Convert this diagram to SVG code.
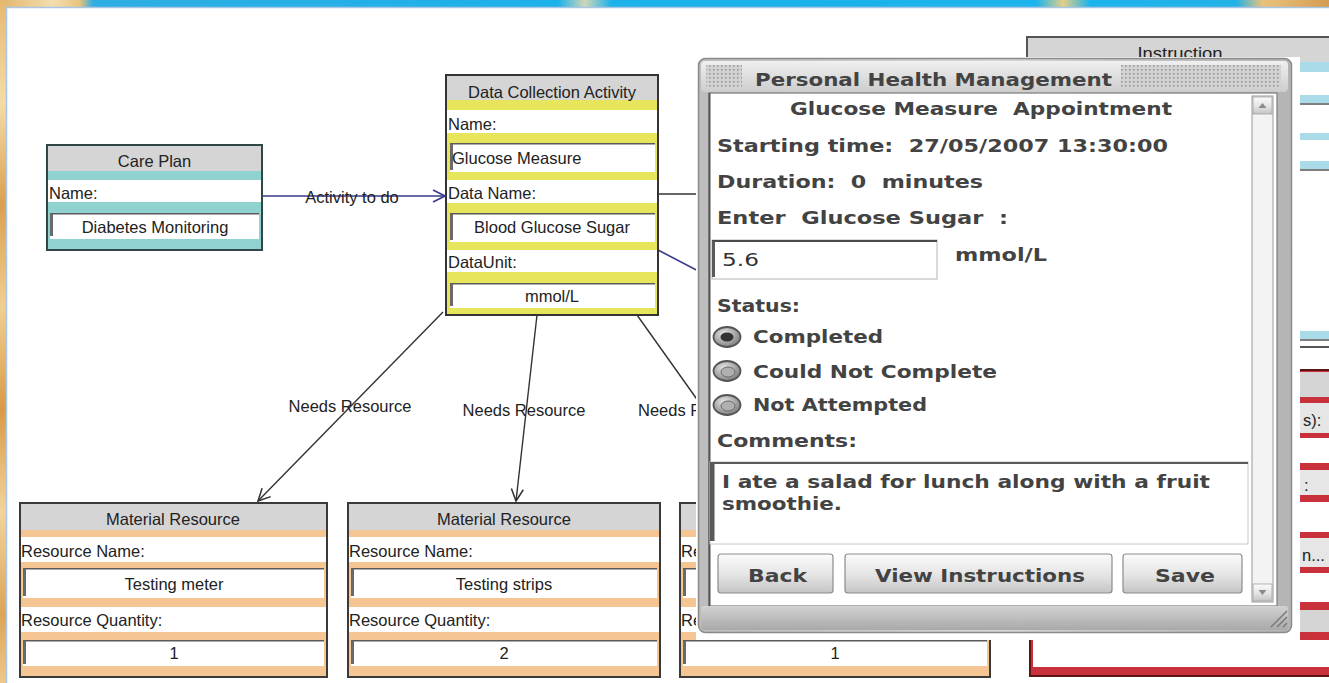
<svg xmlns="http://www.w3.org/2000/svg" width="1329" height="683" viewBox="0 0 1329 683">
  <style>
    .t { font-family: "Liberation Sans", Arial, sans-serif; font-size: 16.5px; fill: #222; }
    .mid { text-anchor: middle; }
    .hdr { fill: #d5d5d5; }
    .row { fill: #ffffff; }
    .inset { fill: none; stroke: #5a5a5a; stroke-width: 1.5; }
    .insetBar { fill: #6a6a6a; }
    .edge { fill: none; stroke: #333; stroke-width: 1.4; }
    .edgeBlue { fill: none; stroke: #3a3a8c; stroke-width: 1.6; }
    .d { font-family: "DejaVu Sans", Verdana, sans-serif; font-size: 18px; font-weight: bold; fill: #434343; white-space: pre; }
    .plain { font-weight: normal; fill: #333; }
    .btn { fill: url(#btnGrad); stroke: #8c8c8c; stroke-width: 1.2; }
    .radio { fill: url(#radioGrad); stroke: #555; stroke-width: 1.8; }
    .blueBand { fill: #a9dbe8; }
    .redBand { fill: #c8303c; }
  </style>
  <defs>
    <marker id="arrowBlue" viewBox="0 0 14 14" refX="13" refY="7" markerWidth="14" markerHeight="14" markerUnits="userSpaceOnUse" orient="auto">
      <path d="M1,1 L13,7 L1,13" fill="none" stroke="#3a3a8c" stroke-width="1.6"/>
    </marker>
    <marker id="arrowDark" viewBox="0 0 14 14" refX="13" refY="7" markerWidth="14" markerHeight="14" markerUnits="userSpaceOnUse" orient="auto">
      <path d="M1,1 L13,7 L1,13" fill="none" stroke="#333" stroke-width="1.5"/>
    </marker>
    <linearGradient id="topStrip" x1="0" y1="0" x2="1" y2="0">
      <stop offset="0" stop-color="#e2b66c"/>
      <stop offset="0.04" stop-color="#f3ddb0"/>
      <stop offset="0.06" stop-color="#e9c27e"/>
      <stop offset="0.07" stop-color="#2eaee2"/>
      <stop offset="0.42" stop-color="#1cb2ea"/>
      <stop offset="0.44" stop-color="#cfd7b8"/>
      <stop offset="0.46" stop-color="#1cb2ea"/>
      <stop offset="0.78" stop-color="#1cb4ec"/>
      <stop offset="0.8" stop-color="#e3cf86"/>
      <stop offset="0.82" stop-color="#1cb4ec"/>
      <stop offset="0.93" stop-color="#22b2e6"/>
      <stop offset="0.95" stop-color="#e8c27e"/>
      <stop offset="1" stop-color="#d59c52"/>
    </linearGradient>
    <linearGradient id="leftStrip" x1="0" y1="0" x2="0" y2="1">
      <stop offset="0" stop-color="#e6b870"/>
      <stop offset="0.15" stop-color="#f4dca8"/>
      <stop offset="0.3" stop-color="#dba050"/>
      <stop offset="0.45" stop-color="#f0cf90"/>
      <stop offset="0.6" stop-color="#d99a48"/>
      <stop offset="0.75" stop-color="#f2d49c"/>
      <stop offset="0.9" stop-color="#dca458"/>
      <stop offset="1" stop-color="#eec88a"/>
    </linearGradient>
    <linearGradient id="titleGrad" x1="0" y1="0" x2="0" y2="1">
      <stop offset="0" stop-color="#f0f0f0"/>
      <stop offset="1" stop-color="#cdcdcd"/>
    </linearGradient>
    <linearGradient id="frameGrad" x1="0" y1="0" x2="1" y2="0">
      <stop offset="0" stop-color="#bdbdbd"/>
      <stop offset="0.5" stop-color="#d6d6d6"/>
      <stop offset="1" stop-color="#b4b4b4"/>
    </linearGradient>
    <linearGradient id="footGrad" x1="0" y1="0" x2="0" y2="1">
      <stop offset="0" stop-color="#d2d2d2"/>
      <stop offset="1" stop-color="#a9a9a9"/>
    </linearGradient>
    <linearGradient id="btnGrad" x1="0" y1="0" x2="0" y2="1">
      <stop offset="0" stop-color="#fbfbfb"/>
      <stop offset="0.55" stop-color="#e4e4e4"/>
      <stop offset="1" stop-color="#c4c4c4"/>
    </linearGradient>
    <radialGradient id="radioGrad" cx="0.4" cy="0.35" r="0.7">
      <stop offset="0" stop-color="#e8e8e8"/>
      <stop offset="1" stop-color="#7a7a7a"/>
    </radialGradient>
    <pattern id="grip" width="4" height="4" patternUnits="userSpaceOnUse">
      <rect width="4" height="4" fill="#d2d2d2"/>
      <rect x="1" y="1" width="1.6" height="1.6" fill="#9a9a9a"/>
    </pattern>
  </defs>

  <!-- window backdrop -->
  <g id="backdrop">
    <rect x="0" y="0" width="1329" height="683" fill="#ffffff"/>
    <rect x="0" y="0" width="1329" height="7" fill="url(#topStrip)"/>
    <rect x="0" y="0" width="6" height="683" fill="url(#leftStrip)"/>
    <path d="M6.5,683 V7.5 H1329" fill="none" stroke="#a9c6e6" stroke-width="1.5"/>
  </g>

  <!-- relationships between the plan elements -->
  <g id="connectors">
    <line x1="262" y1="196" x2="445" y2="196" class="edgeBlue" marker-end="url(#arrowBlue)"/>
    <text x="352" y="203" class="t mid">Activity to do</text>
    <line x1="658" y1="194" x2="712" y2="194" class="edge" stroke-width="1.8"/>
    <line x1="658" y1="250" x2="706" y2="275" class="edgeBlue"/>
    <line x1="443" y1="312" x2="258" y2="501" class="edge" marker-end="url(#arrowDark)"/>
    <line x1="537" y1="315" x2="516" y2="501" class="edge" marker-end="url(#arrowDark)"/>
    <line x1="637" y1="315" x2="706" y2="412" class="edge"/>
    <text x="350" y="412" class="t mid">Needs Resource</text>
    <text x="524" y="416" class="t mid">Needs Resource</text>
    <text x="638" y="416" class="t">Needs Resource</text>
  </g>

  <!-- Care Plan -->
  <g id="care-plan">
    <rect x="47" y="145" width="215" height="105" fill="#8fd2cf" stroke="#2f4747" stroke-width="2"/>
    <rect x="48" y="146" width="213" height="25" class="hdr"/>
    <rect x="48" y="180" width="213" height="22" class="row"/>
    <rect x="50" y="213" width="209" height="26" class="row"/>
    <path d="M50,213.8 H259" class="inset"/>
    <rect x="50" y="214" width="3" height="22" class="insetBar"/>
    <text x="154.5" y="167" class="t mid">Care Plan</text>
    <text x="49" y="199" class="t">Name:</text>
    <text x="155" y="233" class="t mid">Diabetes Monitoring</text>
  </g>

  <!-- Data Collection Activity -->
  <g id="data-collection-activity">
    <rect x="446" y="75" width="212" height="240" fill="#e6e55c" stroke="#333" stroke-width="2"/>
    <rect x="447" y="76" width="210" height="24" class="hdr"/>
    <rect x="447" y="110" width="210" height="23" class="row"/>
    <rect x="450" y="143" width="205" height="29" class="row"/>
    <path d="M450,143.8 H655" class="inset"/>
    <rect x="450" y="144" width="3" height="26" class="insetBar"/>
    <rect x="447" y="180" width="210" height="23" class="row"/>
    <rect x="450" y="213" width="205" height="29" class="row"/>
    <path d="M450,213.8 H655" class="inset"/>
    <rect x="450" y="214" width="3" height="26" class="insetBar"/>
    <rect x="447" y="250" width="210" height="22" class="row"/>
    <rect x="450" y="283" width="205" height="25" class="row"/>
    <path d="M450,283.8 H655" class="inset"/>
    <rect x="450" y="284" width="3" height="22" class="insetBar"/>
    <text x="552" y="98" class="t mid">Data Collection Activity</text>
    <text x="448" y="130" class="t">Name:</text>
    <text x="452" y="164" class="t">Glucose Measure</text>
    <text x="448" y="199" class="t">Data Name:</text>
    <text x="552" y="233" class="t mid">Blood Glucose Sugar</text>
    <text x="448" y="268" class="t">DataUnit:</text>
    <text x="552" y="302" class="t mid">mmol/L</text>
  </g>

  <!-- Material resources -->
  <g id="resource-meter">
    <rect x="20" y="503" width="307" height="174" fill="#f5c594" stroke="#3a3a3a" stroke-width="2"/>
    <rect x="21" y="504" width="305" height="26" class="hdr"/>
    <rect x="21" y="537" width="305" height="25" class="row"/>
    <rect x="23" y="568" width="301" height="30" class="row"/>
    <path d="M23,568.8 H324" class="inset"/>
    <rect x="23" y="569" width="3" height="27" class="insetBar"/>
    <rect x="21" y="607" width="305" height="25" class="row"/>
    <rect x="23" y="640" width="301" height="26" class="row"/>
    <path d="M23,640.8 H324" class="inset"/>
    <rect x="23" y="641" width="3" height="23" class="insetBar"/>
    <text x="173" y="525" class="t mid">Material Resource</text>
    <text x="21" y="557" class="t">Resource Name:</text>
    <text x="174" y="590" class="t mid">Testing meter</text>
    <text x="21" y="626" class="t">Resource Quantity:</text>
    <text x="174" y="659" class="t mid">1</text>
  </g>

  <g id="resource-strips">
    <rect x="348" y="503" width="312" height="174" fill="#f5c594" stroke="#3a3a3a" stroke-width="2"/>
    <rect x="349" y="504" width="310" height="26" class="hdr"/>
    <rect x="349" y="537" width="310" height="25" class="row"/>
    <rect x="351" y="568" width="306" height="30" class="row"/>
    <path d="M351,568.8 H657" class="inset"/>
    <rect x="351" y="569" width="3" height="27" class="insetBar"/>
    <rect x="349" y="607" width="310" height="25" class="row"/>
    <rect x="351" y="640" width="306" height="26" class="row"/>
    <path d="M351,640.8 H657" class="inset"/>
    <rect x="351" y="641" width="3" height="23" class="insetBar"/>
    <text x="504" y="525" class="t mid">Material Resource</text>
    <text x="349" y="557" class="t">Resource Name:</text>
    <text x="504" y="590" class="t mid">Testing strips</text>
    <text x="349" y="626" class="t">Resource Quantity:</text>
    <text x="504" y="659" class="t mid">2</text>
  </g>

  <g id="resource-third">
    <rect x="680" y="503" width="310" height="174" fill="#f5c594" stroke="#3a3a3a" stroke-width="2"/>
    <rect x="681" y="504" width="308" height="26" class="hdr"/>
    <rect x="681" y="537" width="308" height="25" class="row"/>
    <rect x="683" y="568" width="304" height="30" class="row"/>
    <path d="M683,568.8 H987" class="inset"/>
    <rect x="683" y="569" width="3" height="27" class="insetBar"/>
    <rect x="681" y="607" width="308" height="25" class="row"/>
    <rect x="683" y="640" width="304" height="26" class="row"/>
    <path d="M683,640.8 H987" class="inset"/>
    <rect x="683" y="641" width="3" height="23" class="insetBar"/>
    <text x="681" y="557" class="t">Resource Name:</text>
    <text x="681" y="626" class="t">Resource Quantity:</text>
    <text x="835" y="659" class="t mid">1</text>
  </g>

  <!-- Instruction -->
  <g id="instruction">
    <rect x="1027" y="37" width="320" height="310" fill="#ffffff" stroke="#555" stroke-width="2"/>
    <rect x="1028" y="38" width="318" height="24" class="hdr"/>
    <rect x="1028" y="62" width="318" height="10" class="blueBand"/>
    <rect x="1028" y="95" width="318" height="8" class="blueBand"/>
    <line x1="1028" y1="104" x2="1346" y2="104" stroke="#555" stroke-width="1.5"/>
    <rect x="1028" y="133" width="318" height="7" class="blueBand"/>
    <rect x="1028" y="161" width="318" height="8" class="blueBand"/>
    <line x1="1028" y1="170" x2="1346" y2="170" stroke="#555" stroke-width="1.5"/>
    <rect x="1028" y="331" width="318" height="8" class="blueBand"/>
    <line x1="1028" y1="340" x2="1346" y2="340" stroke="#555" stroke-width="1.5"/>
    <text x="1180" y="59" class="t mid" font-size="17" textLength="85" lengthAdjust="spacingAndGlyphs">Instruction</text>
  </g>

  <!-- Red-outlined element on the right -->
  <g id="red-element">
    <rect x="1030" y="370" width="320" height="306" class="redBand" stroke="#5e1414" stroke-width="2"/>
    <rect x="1031" y="372" width="318" height="25" class="hdr"/>
    <rect x="1031" y="403" width="318" height="30" fill="#e6e6e6"/>
    <rect x="1031" y="438" width="318" height="25" class="row"/>
    <rect x="1031" y="470" width="318" height="25" fill="#e6e6e6"/>
    <rect x="1031" y="502" width="318" height="30" class="row"/>
    <rect x="1031" y="538" width="318" height="29" fill="#e6e6e6"/>
    <rect x="1031" y="573" width="318" height="29" class="row"/>
    <rect x="1031" y="610" width="318" height="22" class="hdr"/>
    <rect x="1033" y="640" width="316" height="27" class="row"/>
    <text x="1303" y="426" class="t">s):</text>
    <text x="1304" y="491" class="t">:</text>
    <text x="1302" y="561" class="t">n...</text>
  </g>

  <!-- Personal Health Management dialog -->
  <g id="phm-dialog">
    <rect x="696" y="57" width="604" height="583" fill="#ffffff"/>
    <rect x="698.5" y="58.5" width="593" height="574" rx="7" fill="url(#frameGrad)" stroke="#8a8a8a" stroke-width="1.5"/>
    <rect x="701" y="61" width="587" height="31" rx="4" fill="url(#titleGrad)"/>
    <rect x="706" y="65" width="36" height="23" fill="url(#grip)"/>
    <rect x="1121" y="65" width="160" height="23" fill="url(#grip)"/>
    <text x="755" y="86" class="d" textLength="357" lengthAdjust="spacingAndGlyphs">Personal Health Management</text>

    <!-- content pane -->
    <rect x="709" y="93" width="568" height="513" fill="#ffffff" stroke="#7a7a7a" stroke-width="1.2"/>
    <line x1="709.5" y1="93" x2="709.5" y2="606" stroke="#555" stroke-width="2"/>

    <!-- scrollbar -->
    <rect x="1252" y="96" width="21" height="506" fill="#f3f3f3" stroke="#9a9a9a" stroke-width="1"/>
    <rect x="1253" y="97" width="19" height="17" fill="url(#btnGrad)" stroke="#a0a0a0" stroke-width="0.8"/>
    <path d="M1258.5,108 L1262.5,103 L1266.5,108 Z" fill="#8a8a8a"/>
    <rect x="1253" y="584" width="19" height="17" fill="url(#btnGrad)" stroke="#a0a0a0" stroke-width="0.8"/>
    <path d="M1258.5,590 L1262.5,595 L1266.5,590 Z" fill="#8a8a8a"/>

    <!-- footer and resize grip -->
    <rect x="701" y="606" width="587" height="24" rx="3" fill="url(#footGrad)"/>
    <path d="M1271,627 L1287,611 M1277,627 L1287,617 M1283,627 L1287,623" stroke="#7a7a7a" stroke-width="1.5"/>

    <text x="790" y="115" class="d" xml:space="preserve" textLength="382" lengthAdjust="spacingAndGlyphs">Glucose Measure  Appointment</text>
    <text x="717" y="152" class="d" xml:space="preserve" textLength="451" lengthAdjust="spacingAndGlyphs">Starting time:  27/05/2007 13:30:00</text>
    <text x="717" y="188" class="d" xml:space="preserve" textLength="266" lengthAdjust="spacingAndGlyphs">Duration:  0  minutes</text>
    <text x="717" y="224" class="d" xml:space="preserve" textLength="291" lengthAdjust="spacingAndGlyphs">Enter  Glucose Sugar  :</text>

    <!-- value field -->
    <rect x="712" y="240" width="225" height="39" fill="#ffffff" stroke="#b5b5b5" stroke-width="1"/>
    <path d="M712,241 H937" stroke="#4a4a4a" stroke-width="2"/>
    <rect x="712" y="241" width="3" height="36" fill="#5a5a5a"/>
    <text x="722" y="266" class="d plain" textLength="37" lengthAdjust="spacingAndGlyphs">5.6</text>
    <text x="955" y="261" class="d" textLength="92" lengthAdjust="spacingAndGlyphs">mmol/L</text>

    <text x="717" y="312" class="d" textLength="83" lengthAdjust="spacingAndGlyphs">Status:</text>
    <ellipse cx="727" cy="337" rx="13.5" ry="10" class="radio"/>
    <ellipse cx="727" cy="337" rx="6.5" ry="4.5" fill="#333"/>
    <text x="753" y="343" class="d" textLength="130" lengthAdjust="spacingAndGlyphs">Completed</text>
    <ellipse cx="727" cy="371" rx="13.5" ry="10" class="radio"/>
    <ellipse cx="728" cy="372" rx="7" ry="5" fill="#b0b0b0" stroke="#6a6a6a" stroke-width="1"/>
    <text x="753" y="378" class="d" textLength="244" lengthAdjust="spacingAndGlyphs">Could Not Complete</text>
    <ellipse cx="727" cy="405" rx="13.5" ry="10" class="radio"/>
    <ellipse cx="728" cy="406" rx="7" ry="5" fill="#b0b0b0" stroke="#6a6a6a" stroke-width="1"/>
    <text x="753" y="411" class="d" textLength="174" lengthAdjust="spacingAndGlyphs">Not Attempted</text>
    <text x="717" y="447" class="d" textLength="140" lengthAdjust="spacingAndGlyphs">Comments:</text>

    <!-- comments box -->
    <rect x="710" y="462" width="538" height="82" fill="#ffffff" stroke="#c8c8c8" stroke-width="1"/>
    <path d="M710,463 H1248" stroke="#5a5a5a" stroke-width="2.2"/>
    <rect x="710" y="463" width="4.5" height="78" fill="#5a5a5a"/>
    <text x="722" y="488" class="d" textLength="488" lengthAdjust="spacingAndGlyphs">I ate a salad for lunch along with a fruit</text>
    <text x="722" y="510" class="d" textLength="120" lengthAdjust="spacingAndGlyphs">smoothie.</text>

    <!-- buttons -->
    <rect x="718" y="554" width="115" height="39" rx="3" class="btn"/>
    <text x="748" y="582" class="d" textLength="59" lengthAdjust="spacingAndGlyphs">Back</text>
    <rect x="845" y="554" width="267" height="39" rx="3" class="btn"/>
    <text x="875" y="582" class="d" textLength="210" lengthAdjust="spacingAndGlyphs">View Instructions</text>
    <rect x="1123" y="554" width="119" height="39" rx="3" class="btn"/>
    <text x="1155" y="582" class="d" textLength="60" lengthAdjust="spacingAndGlyphs">Save</text>
  </g>
</svg>
